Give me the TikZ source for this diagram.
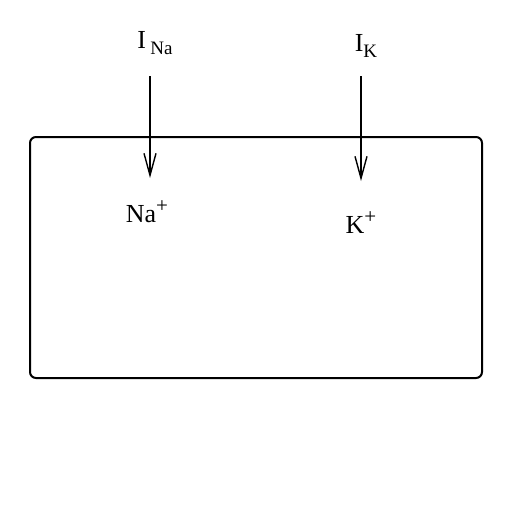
\documentclass[tikz,border=0pt]{standalone}
\usepackage{fontspec}
\setmainfont{Liberation Serif}
\usetikzlibrary{arrows.meta}

\tikzset{
  ionlabel/.style={anchor=base, inner sep=0pt, font=\fontsize{13}{15}\selectfont},
  current/.style={-{Straight Barb[length=11pt,width=6pt]}, line width=0.7pt},
}
\newcommand{\lowsub}[1]{\raisebox{-3pt}{\fontsize{9.5}{10}\selectfont #1}}
\newcommand{\ionsup}[1]{\raisebox{5pt}{\fontsize{10.5}{11}\selectfont #1}}

\begin{document}
\begin{tikzpicture}[x=0.5pt, y=-0.5pt]
    \useasboundingbox (0,0) rectangle (512,509);
    % cell compartment
    \node[draw, rectangle, rounded corners=3pt, line width=1pt, inner sep=0pt,
          minimum width=226pt, minimum height=120.5pt] (cell) at (256,257.5) {};

    \node[ionlabel] (ina) at (155,48) {I\,\lowsub{Na}};
    \node[ionlabel] (ik) at (366,51) {I\lowsub{K}};
    \node[ionlabel] (na) at (147,222) {Na\ionsup{+}};
    \node[ionlabel] (kion) at (361,233) {K\ionsup{+}};

    \coordinate (naTop) at (150,76);
    \coordinate (naEnd) at (150,178);
    \coordinate (kTop) at (361,76);
    \coordinate (kEnd) at (361,181);

    \draw[current] (naTop) -- (naEnd);
    \draw[current] (kTop) -- (kEnd);
\end{tikzpicture}
\end{document}
